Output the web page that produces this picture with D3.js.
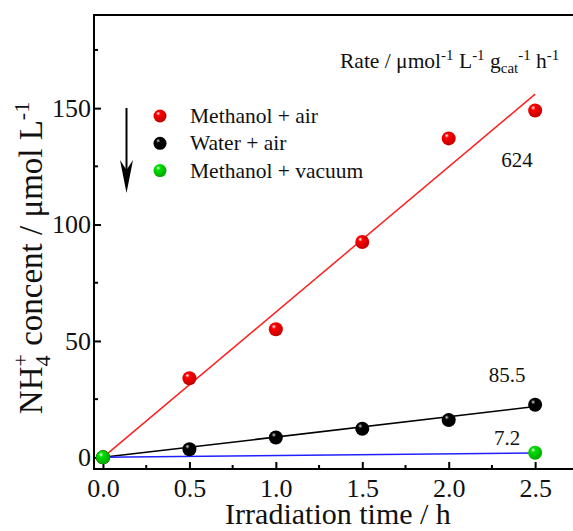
<!DOCTYPE html>
<html>
<head>
<meta charset="utf-8">
<script src="https://cdn.jsdelivr.net/npm/d3@7"></script>
<style>
  body { margin: 0; background: #fff; }
  svg { display: block; }
  svg text { font-family: "Liberation Serif", "Times New Roman", Times, "DejaVu Serif", serif; }
</style>
</head>
<body>
<div id="chart"></div>
<script>
// data
const times = [0, 0.5, 1.0, 1.5, 2.0, 2.5];
const methanolAir = [0, 34, 55, 92.5, 137, 149];
const waterAir = [0, 3.5, 8.5, 12.3, 16, 22.6];
const methanolVacuum = [0, null, null, null, null, 2];

// fitted lines: start and end values
const fitTimes = [0, 2.5];
const fitMethanolAir = [0, 156];
const fitWaterAir = [0, 21.8];
const fitMethanolVacuum = [0, 1.9];

const seriesNames = ["Methanol + air", "Water + air", "Methanol + vacuum"];
const seriesColours = ["#ff0000", "#000000", "#00e000"];
const lineColours = ["#ff2020", "#000000", "#2020ff"];
const rateLabels = ["624", "85.5", "7.2"];

const xTicks = [0, 0.5, 1.0, 1.5, 2.0, 2.5];
const yTicks = [0, 50, 100, 150];

const width = 573;
const height = 531;

const svg = d3.select("#chart").append("svg")
    .attr("width", width)
    .attr("height", height);

const x = d3.scaleLinear()
    .domain([-0.052, 2.8])
    .range([94, 587]);

const y = d3.scaleLinear()
    .domain([-5, 190])
    .range([469, 15]);

// gradients for the sphere markers
const defs = svg.append("defs");
seriesColours.forEach((c, i) => {
    const g = defs.append("radialGradient")
        .attr("id", "ball" + i)
        .attr("cx", "40%").attr("cy", "35%").attr("r", "65%")
        .attr("fx", "35%").attr("fy", "30%");
    g.append("stop").attr("offset", "0%").attr("stop-color", i === 1 ? "#d0d0d0" : "#ffffff");
    g.append("stop").attr("offset", "25%").attr("stop-color", c);
    g.append("stop").attr("offset", "100%").attr("stop-color", d3.color(c).darker(0.8));
});

// frame: left, bottom, top
const frame = svg.append("g")
    .attr("stroke", "#000")
    .attr("stroke-width", 2)
    .attr("fill", "none");
frame.append("line").attr("x1", x(-0.052)).attr("x2", x(-0.052)).attr("y1", y(190)).attr("y2", y(-5));
frame.append("line").attr("x1", x(-0.052) - 1).attr("x2", width + 5).attr("y1", y(-5)).attr("y2", y(-5));
frame.append("line").attr("x1", x(-0.052) - 1).attr("x2", width + 5).attr("y1", y(190)).attr("y2", y(190));

// x axis (ticks inward)
const xAxisG = svg.append("g")
    .attr("transform", `translate(0, ${y(-5)})`);
xAxisG.call(d3.axisBottom(x)
        .tickValues(xTicks)
        .tickSize(-7)
        .tickPadding(10)
        .tickFormat(d3.format(".1f")))
    .call(g => g.select(".domain").remove());
xAxisG.attr("font-family", null);
xAxisG.selectAll(".tick line").attr("stroke-width", 2);
xAxisG.selectAll(".tick text")
    .style("font-size", "26px")
    .attr("fill", "#111");
xAxisG.append("g").selectAll("line")
    .data([0.25, 0.75, 1.25, 1.75, 2.25, 2.75])
    .enter()
    .append("line")
    .attr("x1", d => x(d)).attr("x2", d => x(d))
    .attr("y1", 0).attr("y2", -4)
    .attr("stroke", "#000").attr("stroke-width", 2);

// y axis (ticks inward)
const yAxisG = svg.append("g")
    .attr("transform", `translate(${x(-0.052)}, 0)`);
yAxisG.call(d3.axisLeft(y)
        .tickValues(yTicks)
        .tickSize(-7)
        .tickPadding(3))
    .call(g => g.select(".domain").remove());
yAxisG.attr("font-family", null);
yAxisG.selectAll(".tick line").attr("stroke-width", 2);
yAxisG.selectAll(".tick text")
    .style("font-size", "26px")
    .attr("fill", "#111");
yAxisG.append("g").selectAll("line")
    .data([25, 75, 125, 175])
    .enter()
    .append("line")
    .attr("y1", d => y(d)).attr("y2", d => y(d))
    .attr("x1", 0).attr("x2", 4)
    .attr("stroke", "#000").attr("stroke-width", 2);

// axis titles
svg.append("text")
    .attr("x", 338)
    .attr("y", 524)
    .attr("text-anchor", "middle")
    .style("font-size", "30px")
    .attr("fill", "#111")
    .text("Irradiation time / h");

const yTitle = svg.append("text")
    .attr("transform", "translate(42, 258) rotate(-90)")
    .attr("text-anchor", "middle")
    .style("font-size", "33px")
    .attr("fill", "#111");
yTitle.append("tspan").text("NH");
yTitle.append("tspan").attr("dy", 8).style("font-size", "22px").text("4");
yTitle.append("tspan").attr("dy", -22).attr("dx", -11).style("font-size", "22px").text("+");
yTitle.append("tspan").attr("dy", 14).text(" concent / \u03bcmol L");
yTitle.append("tspan").attr("dy", -13).style("font-size", "22px").text("-1");

// fitted lines
const fits = [fitMethanolAir, fitWaterAir, fitMethanolVacuum];
const line = d3.line()
    .x(d => x(d[0]))
    .y(d => y(d[1]));
fits.forEach((f, i) => {
    svg.append("path")
        .datum(fitTimes.map((t, j) => [t, f[j]]))
        .attr("fill", "none")
        .attr("stroke", lineColours[i])
        .attr("stroke-width", 1.5)
        .attr("d", line);
});

// points
const series = [methanolAir, waterAir, methanolVacuum];
series.forEach((s, i) => {
    svg.append("g")
        .selectAll("circle")
        .data(times.map((t, j) => [t, s[j]]).filter(d => d[1] !== null))
        .enter()
        .append("circle")
        .attr("cx", d => x(d[0]))
        .attr("cy", d => y(d[1]))
        .attr("r", 7)
        .attr("fill", `url(#ball${i})`);
});

// legend
const legend = svg.append("g");
seriesNames.forEach((name, i) => {
    const ly = 116 + i * 27.3;
    legend.append("circle")
        .attr("cx", 160).attr("cy", ly).attr("r", 6.5)
        .attr("fill", `url(#ball${i})`);
    legend.append("text")
        .attr("x", 190).attr("y", ly + 7)
        .style("font-size", "21.5px")
        .attr("fill", "#111")
        .text(name);
});

// arrow
svg.append("line")
    .attr("x1", 126.5).attr("x2", 126.5)
    .attr("y1", 108).attr("y2", 170)
    .attr("stroke", "#000").attr("stroke-width", 2);
svg.append("path")
    .attr("d", "M120,160 L126.5,193 L133,160 L126.5,170 Z")
    .attr("fill", "#000");

// rate header
const rate = svg.append("text")
    .attr("x", 340).attr("y", 68)
    .style("font-size", "21.5px")
    .attr("fill", "#111");
rate.append("tspan").text("Rate / \u03bcmol");
rate.append("tspan").attr("dy", -8).style("font-size", "15px").text("-1");
rate.append("tspan").attr("dy", 8).text(" L");
rate.append("tspan").attr("dy", -8).style("font-size", "15px").text("-1");
rate.append("tspan").attr("dy", 8).text(" g");
rate.append("tspan").attr("dy", 5).style("font-size", "15px").text("cat");
rate.append("tspan").attr("dy", -13).style("font-size", "15px").text("-1");
rate.append("tspan").attr("dy", 8).text(" h");
rate.append("tspan").attr("dy", -8).style("font-size", "15px").text("-1");

// rate labels
const rateLabelPos = [[517, 167], [507, 382], [507, 445]];
rateLabels.forEach((r, i) => {
    svg.append("text")
        .attr("x", rateLabelPos[i][0]).attr("y", rateLabelPos[i][1])
        .attr("text-anchor", "middle")
        .style("font-size", "21px")
        .attr("fill", "#111")
        .text(r);
});
</script>
</body>
</html>
